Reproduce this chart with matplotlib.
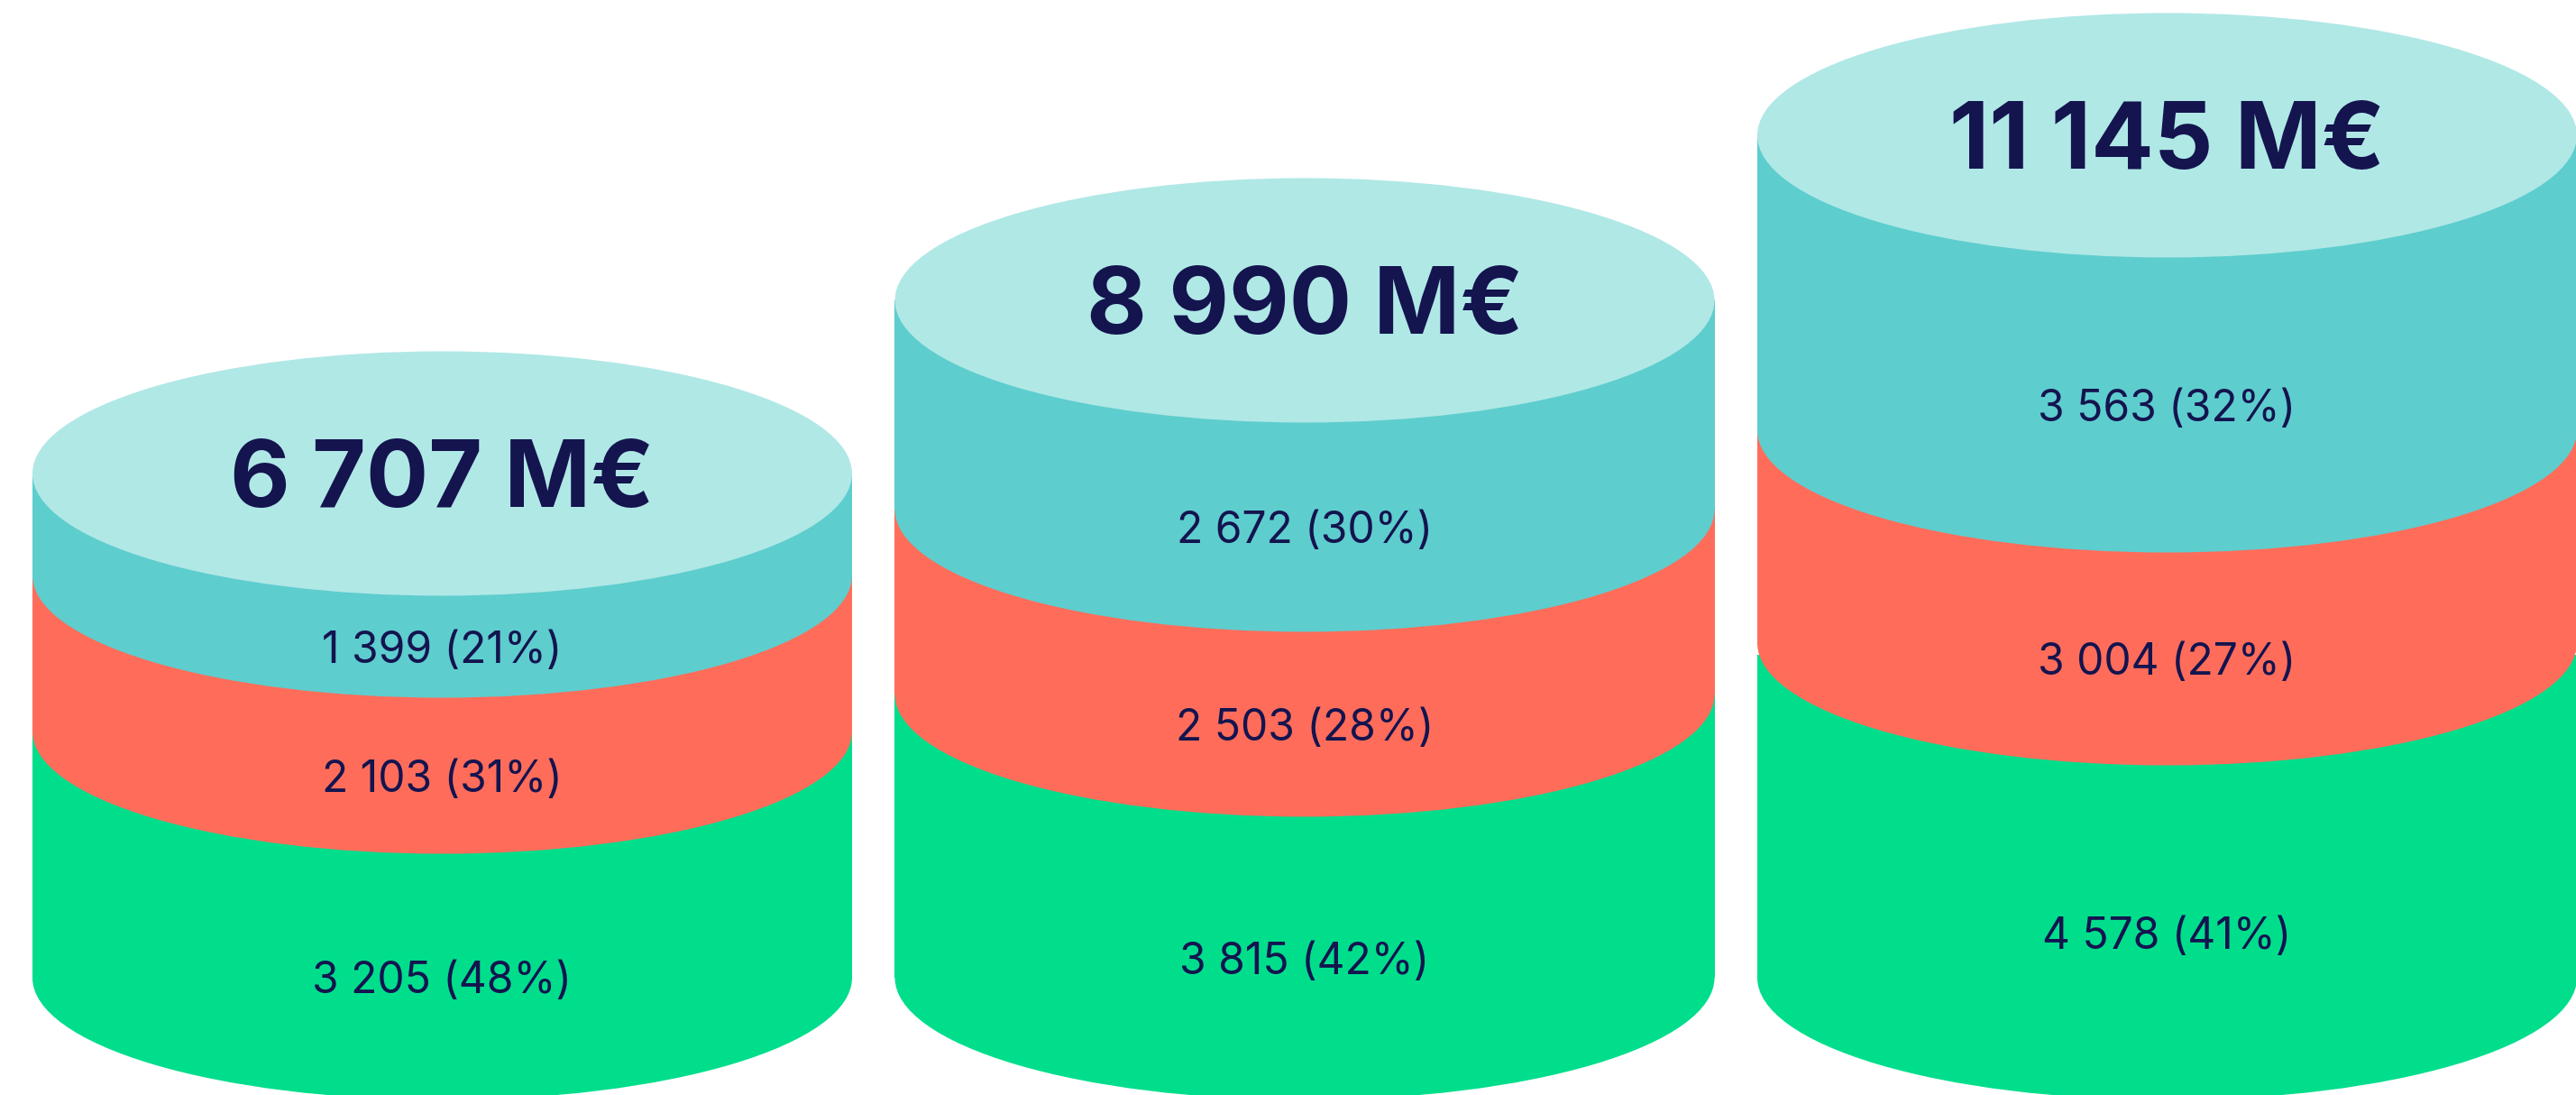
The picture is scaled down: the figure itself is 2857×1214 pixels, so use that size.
import matplotlib
matplotlib.use("Agg")
import matplotlib.pyplot as plt
from matplotlib.patches import Ellipse, Rectangle

# Printed figures (M€)
totals = ["6 707 M€", "8 990 M€", "11 145 M€"]
green_labels = ["3 205 (48%)", "3 815 (42%)", "4 578 (41%)"]
red_labels = ["2 103 (31%)", "2 503 (28%)", "3 004 (27%)"]
teal_labels = ["1 399 (21%)", "2 672 (30%)", "3 563 (32%)"]

# Tier heights as actually drawn in the picture (M€ equivalent):
# the infographic is not strictly to scale, so these are read off the image.
green_drawn = [3277, 3770, 4298]
red_gap = [0, 0, 156]          # third stack: red sits slightly above the green's top
red_drawn = [2077, 2461, 2833]
teal_drawn = [1357, 2785, 3926]

GREEN, RED, TEAL, LIGHT, INK = "#00DE8C", "#FF6D5A", "#5ECDCE", "#B0E8E6", "#14144F"
FONT = "Inter"

W, H = 2857, 1214
PX_PER_UNIT_Y = 0.0833
PX_PER_CAT = 956.5
X0_PX, Y0_PX = 490.5, 1084
BAR_W = 909 / PX_PER_CAT
RY = 135.5 / PX_PER_UNIT_Y
LABEL_SHIFT = 0 / PX_PER_UNIT_Y

fig = plt.figure(figsize=(W / 100, H / 100), dpi=100, facecolor="white")
ax = fig.add_axes([0, 0, 1, 1])
ax.set_xlim(-X0_PX / PX_PER_CAT, (W - X0_PX) / PX_PER_CAT)
ax.set_ylim((Y0_PX - H) / PX_PER_UNIT_Y, Y0_PX / PX_PER_UNIT_Y)
ax.axis("off")


def tier(x, base, top, colour, zorder):
    ax.add_patch(Rectangle((x - BAR_W / 2, base), BAR_W, top - base,
                           facecolor=colour, edgecolor="none", zorder=zorder))
    ax.add_patch(Ellipse((x, base), BAR_W, 2 * RY,
                         facecolor=colour, edgecolor="none", zorder=zorder))


def label(x, base, top, text):
    ax.text(x, (base + top) / 2 - RY - LABEL_SHIFT, text, color=INK, family=FONT,
            fontsize=34.5, ha="center", va="center_baseline", zorder=10)


for i in range(3):
    g_top = green_drawn[i]
    r_base = g_top + red_gap[i]
    r_top = r_base + red_drawn[i]
    t_top = r_top + teal_drawn[i]

    tier(i, 0, g_top, GREEN, 1)
    tier(i, r_base, r_top, RED, 2)
    tier(i, r_top, t_top, TEAL, 3)
    ax.add_patch(Ellipse((i, t_top), BAR_W, 2 * RY,
                         facecolor=LIGHT, edgecolor="none", zorder=4))

    label(i, 0, r_base, green_labels[i])
    label(i, r_base, r_top, red_labels[i])
    label(i, r_top, t_top, teal_labels[i])
    ax.text(i, t_top, totals[i], color=INK, family=FONT, fontweight="bold",
            fontsize=74, ha="center", va="center_baseline", zorder=10)

fig.savefig("out.png", dpi=100, facecolor="white")
